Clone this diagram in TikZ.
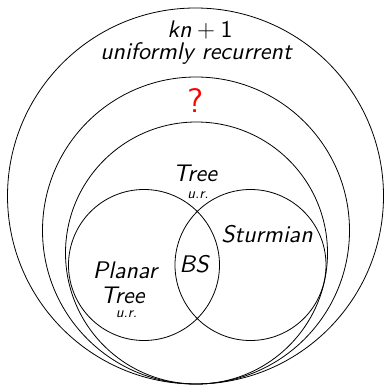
\documentclass[tikz,border=0pt]{standalone}
\usepackage{fontspec}
\newfontfamily\tensans{lmsans10-regular.otf}[ItalicFont=lmsans10-oblique.otf]
\begin{document}
\begin{tikzpicture}[x=1pt,y=-1pt,
  venn/.style={circle,draw=black,line width=0.8pt,inner sep=0pt},
  lbl/.style={font=\fontsize{24}{26}\selectfont\tensans\itshape,inner sep=0pt,anchor=base},
  small/.style={font=\fontsize{15}{16}\selectfont\tensans\itshape,inner sep=0pt,anchor=base},
  qm/.style={font=\fontsize{34}{36}\selectfont\tensans,text=red,inner sep=0pt,anchor=base}]
\useasboundingbox (0,0) rectangle (385,387);
\node[venn,minimum size=376pt] (outer) at (195.5,196) {};
\node[venn,minimum size=307pt] (second) at (196,230.5) {};
\node[venn,minimum size=262pt] (third) at (196.5,253) {};
\node[venn,minimum size=151pt] (left) at (144,265) {};
\node[venn,minimum size=151pt] (right) at (250.5,265) {};
\node[lbl] (kn) at (200,38) {kn${}+{}$\upshape 1};
\node[lbl] (ur) at (196,60) {uniformly recurrent};
\node[qm] (q) at (196,113) {?};
\node[lbl] (tree) at (195,182) {Tree};
\node[small] (tur) at (198,198) {u.r.};
\node[lbl] (stu) at (267,242) {Sturmian};
\node[lbl] (bs) at (194,272) {BS};
\node[lbl] (planar) at (125,278) {Planar};
\node[lbl] (ptree) at (122.5,303) {Tree};
\node[small] (pur) at (126.5,317) {u.r.};
\end{tikzpicture}
\end{document}
